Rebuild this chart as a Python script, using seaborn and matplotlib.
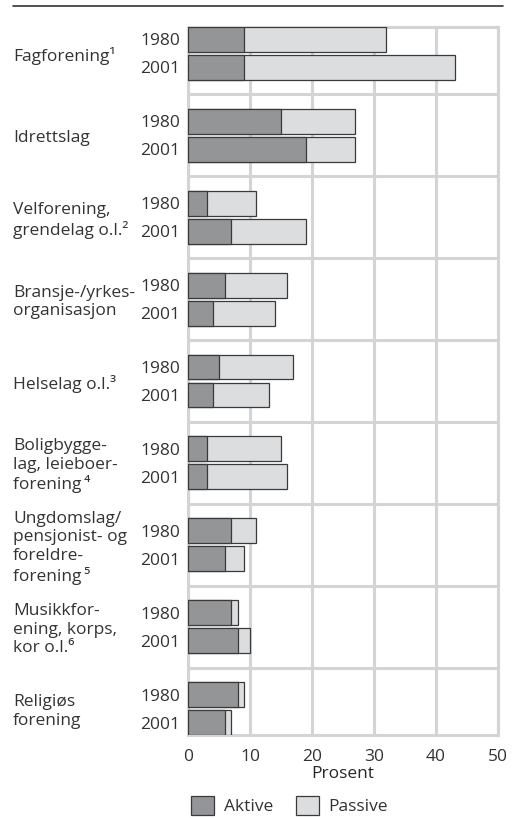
import matplotlib
matplotlib.use('Agg')
import matplotlib.pyplot as plt
import matplotlib.transforms as mtransforms
from matplotlib.lines import Line2D
from matplotlib.patches import Patch
import pandas as pd
import seaborn as sns

# Organisasjonstyper, ovenfra og ned
kategorier = ['Fagforening', 'Idrettslag', 'Velforening', 'Bransje', 'Helselag',
              'Boligbyggelag', 'Ungdomslag', 'Musikkforening', 'Religiøs']
etiketter = [
    'Fagforening¹',
    'Idrettslag',
    'Velforening,\ngrendelag o.l.²',
    'Bransje-/yrkes-\norganisasjon',
    'Helselag o.l.³',
    'Boligbygge-\nlag, leieboer-\nforening\u2009⁴',
    'Ungdomslag/\npensjonist- og\nforeldre-\nforening\u2009⁵',
    'Musikkfor-\nening, korps,\nkor o.l.⁶',
    'Religiøs\nforening',
]
aar = ['1980', '2001']
aktive_1980 = [9, 15, 3, 6, 5, 3, 7, 7, 8]
passive_1980 = [23, 12, 8, 10, 12, 12, 4, 1, 1]
aktive_2001 = [9, 19, 7, 4, 4, 3, 6, 8, 6]
passive_2001 = [34, 8, 12, 10, 9, 13, 3, 2, 1]

AKTIV = '#939598'
PASSIV = '#dcddde'
KANT = '#3a3a3a'
RUTE = '#d3d4d6'
TEKST = '#333333'


def lag_tabell():
    """Long format: one row per organisation and year."""
    rader = []
    for i, kat in enumerate(kategorier):
        for a, akt, pas in (('1980', aktive_1980[i], passive_1980[i]),
                            ('2001', aktive_2001[i], passive_2001[i])):
            rader.append({'kategori': kat, 'år': a, 'aktive': akt,
                          'totalt': akt + pas})
    return pd.DataFrame(rader)


def main():
    sns.set_style('white')
    plt.rcParams['font.family'] = ['Open Sans', 'DejaVu Sans']
    plt.rcParams['text.color'] = TEKST
    plt.rcParams['xtick.color'] = TEKST
    plt.rcParams['ytick.color'] = TEKST
    fs = 12.5

    df = lag_tabell()

    fig = plt.figure(figsize=(5.18, 8.18), dpi=100)
    ax = fig.add_axes([188 / 518, 1 - 735 / 818, 310 / 518, 708 / 818])

    felles = dict(orient='h', order=kategorier, hue='år', hue_order=aar,
                  width=0.684, gap=0.108, edgecolor=KANT, linewidth=0.9,
                  errorbar=None, legend=False, ax=ax)
    sns.barplot(data=df, x='totalt', y='kategori',
                palette={a: PASSIV for a in aar}, **felles)
    sns.barplot(data=df, x='aktive', y='kategori',
                palette={a: AKTIV for a in aar}, **felles)

    n = len(kategorier)
    off = 0.171
    ax.set_xlim(0, 50)
    ax.set_ylim(n - 1 + 0.3235, -0.3235)

    ax.set_xticks([0, 10, 20, 30, 40, 50])
    posisjoner = []
    for i in range(n):
        posisjoner += [i - off, i + off]
    ax.set_yticks(posisjoner, labels=aar * n)
    ax.set_yticks([i + 0.5 for i in range(n - 1)], minor=True)

    ax.set_axisbelow(True)
    ax.grid(axis='x', which='major', color=RUTE, lw=2.2)
    ax.grid(axis='y', which='minor', color=RUTE, lw=2.2)
    ax.grid(axis='y', which='major', visible=False)
    for sp in ax.spines.values():
        sp.set_color(RUTE)
        sp.set_linewidth(2.2)
        sp.set_zorder(0.5)
    ax.tick_params(which='both', length=0, labelsize=fs)
    ax.tick_params(axis='y', pad=5.8)
    ax.tick_params(axis='x', pad=10)

    ax.set_ylabel('')
    ax.set_xlabel('Prosent', fontsize=fs, labelpad=1)

    trans = mtransforms.blended_transform_factory(fig.transFigure, ax.transData)
    trans = mtransforms.offset_copy(trans, fig=fig, y=-3, units='dots')
    for i, tekst in enumerate(etiketter):
        ax.text(13 / 518, i, tekst, transform=trans, ha='left', va='center',
                fontsize=fs, linespacing=1.2)

    handles = [Patch(facecolor=AKTIV, edgecolor=KANT, lw=0.9, label='Aktive'),
               Patch(facecolor=PASSIV, edgecolor=KANT, lw=0.9, label='Passive')]
    fig.legend(handles=handles, loc='upper center',
               bbox_to_anchor=(289.5 / 518, 1 - 796 / 818), ncol=2,
               frameon=False, fontsize=fs, handlelength=1.32, handleheight=1.32,
               handletextpad=0.57, columnspacing=1.3, borderpad=0,
               borderaxespad=0)

    fig.add_artist(Line2D([13 / 518, 503 / 518], [1 - 5.5 / 818] * 2,
                          color=TEKST, lw=1.2, transform=fig.transFigure))

    fig.savefig('out.png', dpi=100)


if __name__ == '__main__':
    main()
